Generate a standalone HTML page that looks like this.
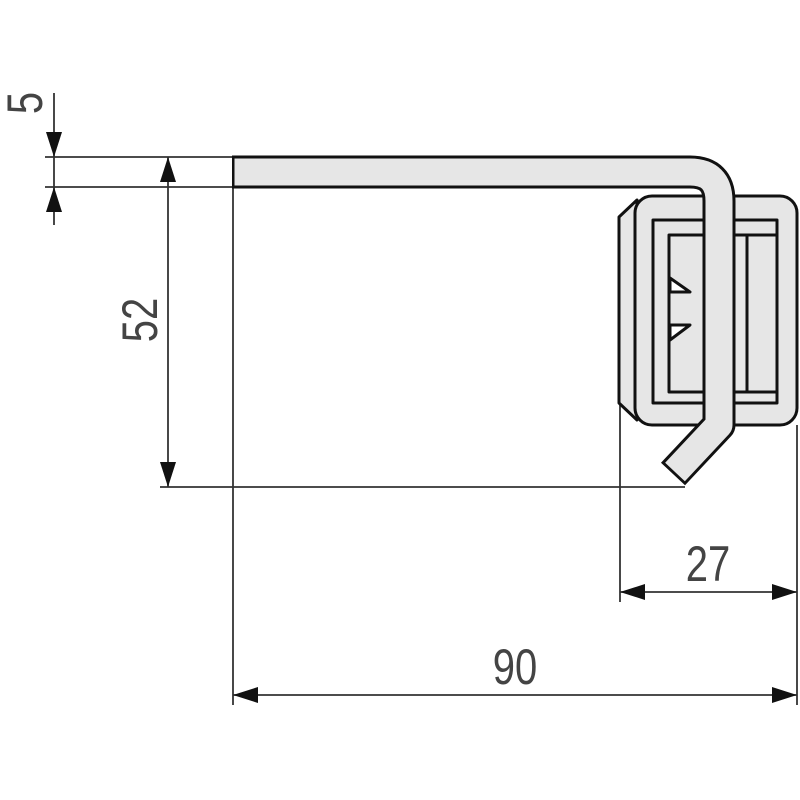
<!DOCTYPE html>
<html><head><style>body{margin:0;background:#fff}svg{display:block}</style></head><body>
<svg width="800" height="800" viewBox="0 0 800 800" xmlns="http://www.w3.org/2000/svg">
<g stroke="#333" stroke-width="1.8" fill="none">
<line x1="45" y1="157" x2="233" y2="157"/>
<line x1="45" y1="187" x2="233" y2="187"/>
<line x1="54" y1="93" x2="54" y2="225"/>
<line x1="168" y1="157" x2="168" y2="487"/>
<line x1="160" y1="487" x2="685" y2="487"/>
<line x1="233" y1="187" x2="233" y2="705"/>
<line x1="620" y1="405" x2="620" y2="602"/>
<line x1="797" y1="425" x2="797" y2="705"/>
<line x1="620" y1="592" x2="797" y2="592"/>
<line x1="233" y1="695" x2="797" y2="695"/>
</g>
<g fill="#111">
<polygon points="54,157 46,132 62,132"/>
<polygon points="54,187 46,212 62,212"/>
<polygon points="168,157 160,182 176,182"/>
<polygon points="168,487 160,462 176,462"/>
<polygon points="620,592 645,584 645,600"/>
<polygon points="797,592 772,584 772,600"/>
<polygon points="233,695 258,687 258,703"/>
<polygon points="797,695 772,687 772,703"/>
</g>
<g font-family="Liberation Sans, sans-serif" font-size="50" fill="#444" text-anchor="middle">
<text transform="translate(42,103) rotate(-90) scale(0.8,1)" >5</text>
<text transform="translate(157,320) rotate(-90) scale(0.8,1)">52</text>
<text transform="translate(708,581) scale(0.8,1)">27</text>
<text transform="translate(515,684) scale(0.8,1)">90</text>
</g>
<!-- clip -->
<g stroke="#111" stroke-width="3" fill="#e6e6e6" stroke-linejoin="round">
<path d="M637,200 L619,217 L619,403 L637,420 Z"/>
<rect x="635" y="196" width="162" height="229" rx="17"/>
<rect x="653" y="220" width="124" height="183" fill="#e6e6e6"/>
<rect x="669" y="235" width="108" height="157" fill="#e6e6e6"/>
<line x1="747" y1="235" x2="747" y2="392"/>
<polygon points="670,278 690,292 670,292" fill="#fff"/>
<polygon points="670,325 690,325 670,340" fill="#fff"/>
</g>
<!-- hook -->
<path d="M232,172 H690 Q719,172 719,201 V425 L673,474" fill="none" stroke="#111" stroke-width="33" stroke-linejoin="round"/>
<path d="M234.5,172 H690 Q719,172 719,201 V425 L675,472" fill="none" stroke="#e6e6e6" stroke-width="27" stroke-linejoin="round"/>
</svg>
</body></html>
